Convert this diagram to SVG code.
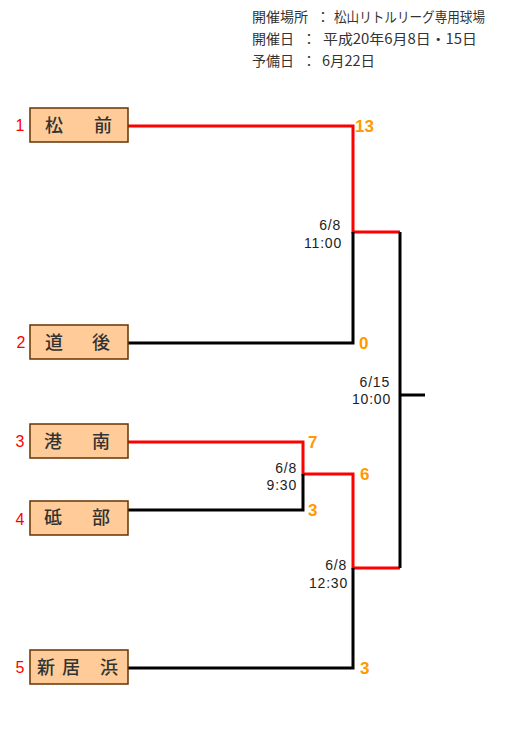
<svg xmlns="http://www.w3.org/2000/svg" width="510" height="737" viewBox="0 0 510 737">
<style>
.box{fill:#FFCC99;stroke:#663300;stroke-width:1.5}
.name{font-family:"Noto Sans CJK JP","Noto Sans",sans-serif;font-size:18px;fill:#333;text-anchor:middle;font-weight:500}
.seed{font-family:"Liberation Sans",Arial,sans-serif;font-size:16px;fill:#FF0000;text-anchor:middle}
.score{font-family:"Liberation Sans",Arial,sans-serif;font-size:17px;font-weight:bold;fill:#FF9900}
.time{font-family:"Liberation Sans",Arial,sans-serif;font-size:14px;fill:#222;text-anchor:end;letter-spacing:0.8px}
.hdr{font-family:"Noto Sans CJK JP","Noto Sans",sans-serif;font-size:14px;fill:#333}
.w{fill:none;stroke:#FF0000;stroke-width:3}
.l{fill:none;stroke:#000;stroke-width:3}
</style>
<g id="header">
<text class="hdr" x="252" y="22">開催場所</text><text class="hdr" x="316" y="22">：</text><text class="hdr" x="334" y="22" textLength="151" lengthAdjust="spacingAndGlyphs">松山リトルリーグ専用球場</text>
<text class="hdr" x="252" y="44">開催日</text><text class="hdr" x="302" y="44">：</text><text class="hdr" x="323" y="44" textLength="154" lengthAdjust="spacingAndGlyphs">平成20年6月8日・15日</text>
<text class="hdr" x="252" y="66">予備日</text><text class="hdr" x="302" y="66">：</text><text class="hdr" x="322" y="66" textLength="53" lengthAdjust="spacingAndGlyphs">6月22日</text>
</g>
<g id="connectors">
<polyline class="w" points="128,126 353,126 353,232 400,232"/>
<polyline class="l" points="128,343 353,343 353,232"/>
<polyline class="w" points="128,442 303,442 303,474 353,474 353,568 400,568"/>
<polyline class="l" points="128,510 303,510 303,474"/>
<polyline class="l" points="128,668 353,668 353,568"/>
<polyline class="l" points="400,232 400,568"/>
<line class="l" x1="400" y1="395" x2="425" y2="395"/>
</g>
<g id="team1"><text class="seed" x="20" y="131">1</text><rect class="box" x="30" y="108" width="98" height="34"/><text class="name" x="54" y="132">松</text><text class="name" x="103" y="132">前</text></g>
<g id="team2"><text class="seed" x="21" y="348">2</text><rect class="box" x="30" y="325" width="98" height="34"/><text class="name" x="54" y="349">道</text><text class="name" x="101" y="349">後</text></g>
<g id="team3"><text class="seed" x="20" y="447">3</text><rect class="box" x="30" y="424" width="98" height="34"/><text class="name" x="53" y="448">港</text><text class="name" x="101" y="448">南</text></g>
<g id="team4"><text class="seed" x="20" y="525">4</text><rect class="box" x="30" y="501" width="98" height="34"/><text class="name" x="53" y="524">砥</text><text class="name" x="101" y="524">部</text></g>
<g id="team5"><text class="seed" x="20" y="673">5</text><rect class="box" x="30" y="650" width="98" height="34"/><text class="name" x="46" y="674">新</text><text class="name" x="71" y="674">居</text><text class="name" x="109" y="674">浜</text></g>
<g id="scores">
<text class="score" x="355" y="132">13</text>
<text class="score" x="359" y="349">0</text>
<text class="score" x="308" y="448">7</text>
<text class="score" x="308" y="516">3</text>
<text class="score" x="360" y="480">6</text>
<text class="score" x="360" y="674">3</text>
</g>
<g id="times">
<text class="time" x="341" y="230">6/8</text><text class="time" x="342" y="248">11:00</text>
<text class="time" x="297" y="473">6/8</text><text class="time" x="297" y="490">9:30</text>
<text class="time" x="347" y="570">6/8</text><text class="time" x="348" y="588">12:30</text>
<text class="time" x="390" y="387">6/15</text><text class="time" x="391" y="404">10:00</text>
</g>
</svg>
